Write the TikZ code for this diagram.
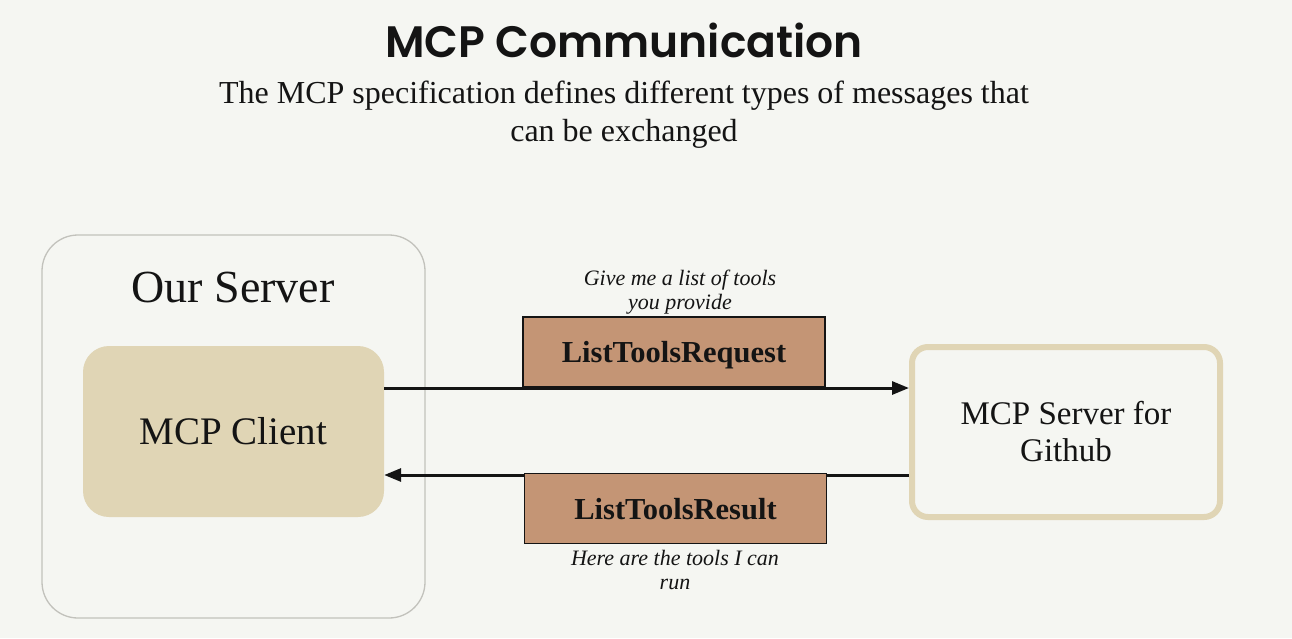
\documentclass[tikz,border=0pt]{standalone}
\usepackage{fontspec}
\setmainfont{Liberation Serif}
\newfontfamily\poppins{Poppins SemiBold}
\usetikzlibrary{arrows.meta}
\definecolor{bg}{HTML}{F5F6F2}
\definecolor{tan}{HTML}{E0D5B5}
\definecolor{msgfill}{HTML}{C49575}
\definecolor{outline}{HTML}{C2C2BC}
\definecolor{ink}{HTML}{141414}
\tikzset{
  msgbox/.style={draw=ink, line width=1.2pt, fill=msgfill, minimum width=302pt, minimum height=70pt, text height=21pt, text depth=0pt, font=\fontsize{30.5}{34}\selectfont\bfseries, text=ink},
  note/.style={align=center, font=\fontsize{22}{24}\selectfont\itshape, text=ink},
  conn/.style={draw=ink, line width=3pt, -{Triangle[length=17pt,width=13pt]}},
}
\begin{document}
\begin{tikzpicture}[x=1pt,y=-1pt]
\useasboundingbox[fill=bg] (0,0) rectangle (1292,638);
\node[font=\poppins\fontsize{44}{48}\selectfont, text=ink] (title) at (624,40) {MCP Communication};
\node[align=center, font=\fontsize{32}{38}\selectfont, text=ink] (sub) at (624,115) {The MCP specification defines different types of messages that\\can be exchanged};
\node[draw=outline, line width=1.3pt, rounded corners=36pt, minimum width=383pt, minimum height=383pt] (ours) at (233.5,426.5) {};
\node[font=\fontsize{46}{50}\selectfont, text=ink] (ourlbl) at (233,287) {Our Server};
\node[fill=tan, rounded corners=26pt, minimum width=301pt, minimum height=171pt, font=\fontsize{39}{44}\selectfont, text=ink] (client) at (233.5,431.5) {MCP Client};
\node[draw=tan, line width=6pt, fill=bg, rounded corners=16pt, minimum width=308pt, minimum height=170pt, align=center, font=\fontsize{33}{37}\selectfont, text=ink] (server) at (1066,432) {MCP Server for\\Github};
\coordinate (a1s) at (client.east |- 0,388);
\coordinate (a1e) at (server.west |- 0,388);
\coordinate (a2s) at (server.west |- 0,475);
\coordinate (a2e) at (client.east |- 0,475);
\draw[conn] (a1s) -- (a1e);
\draw[conn] (a2s) -- (a2e);
\node[msgbox] (req) at (674,352) {ListToolsRequest};
\node[msgbox] (res) at (675.5,508.5) {ListToolsResult};
\node[note, anchor=south] (reqnote) at (680,318) {Give me a list of tools\\you provide};
\node[note, anchor=north] (resnote) at (675,547) {Here are the tools I can\\run};
\end{tikzpicture}
\end{document}
